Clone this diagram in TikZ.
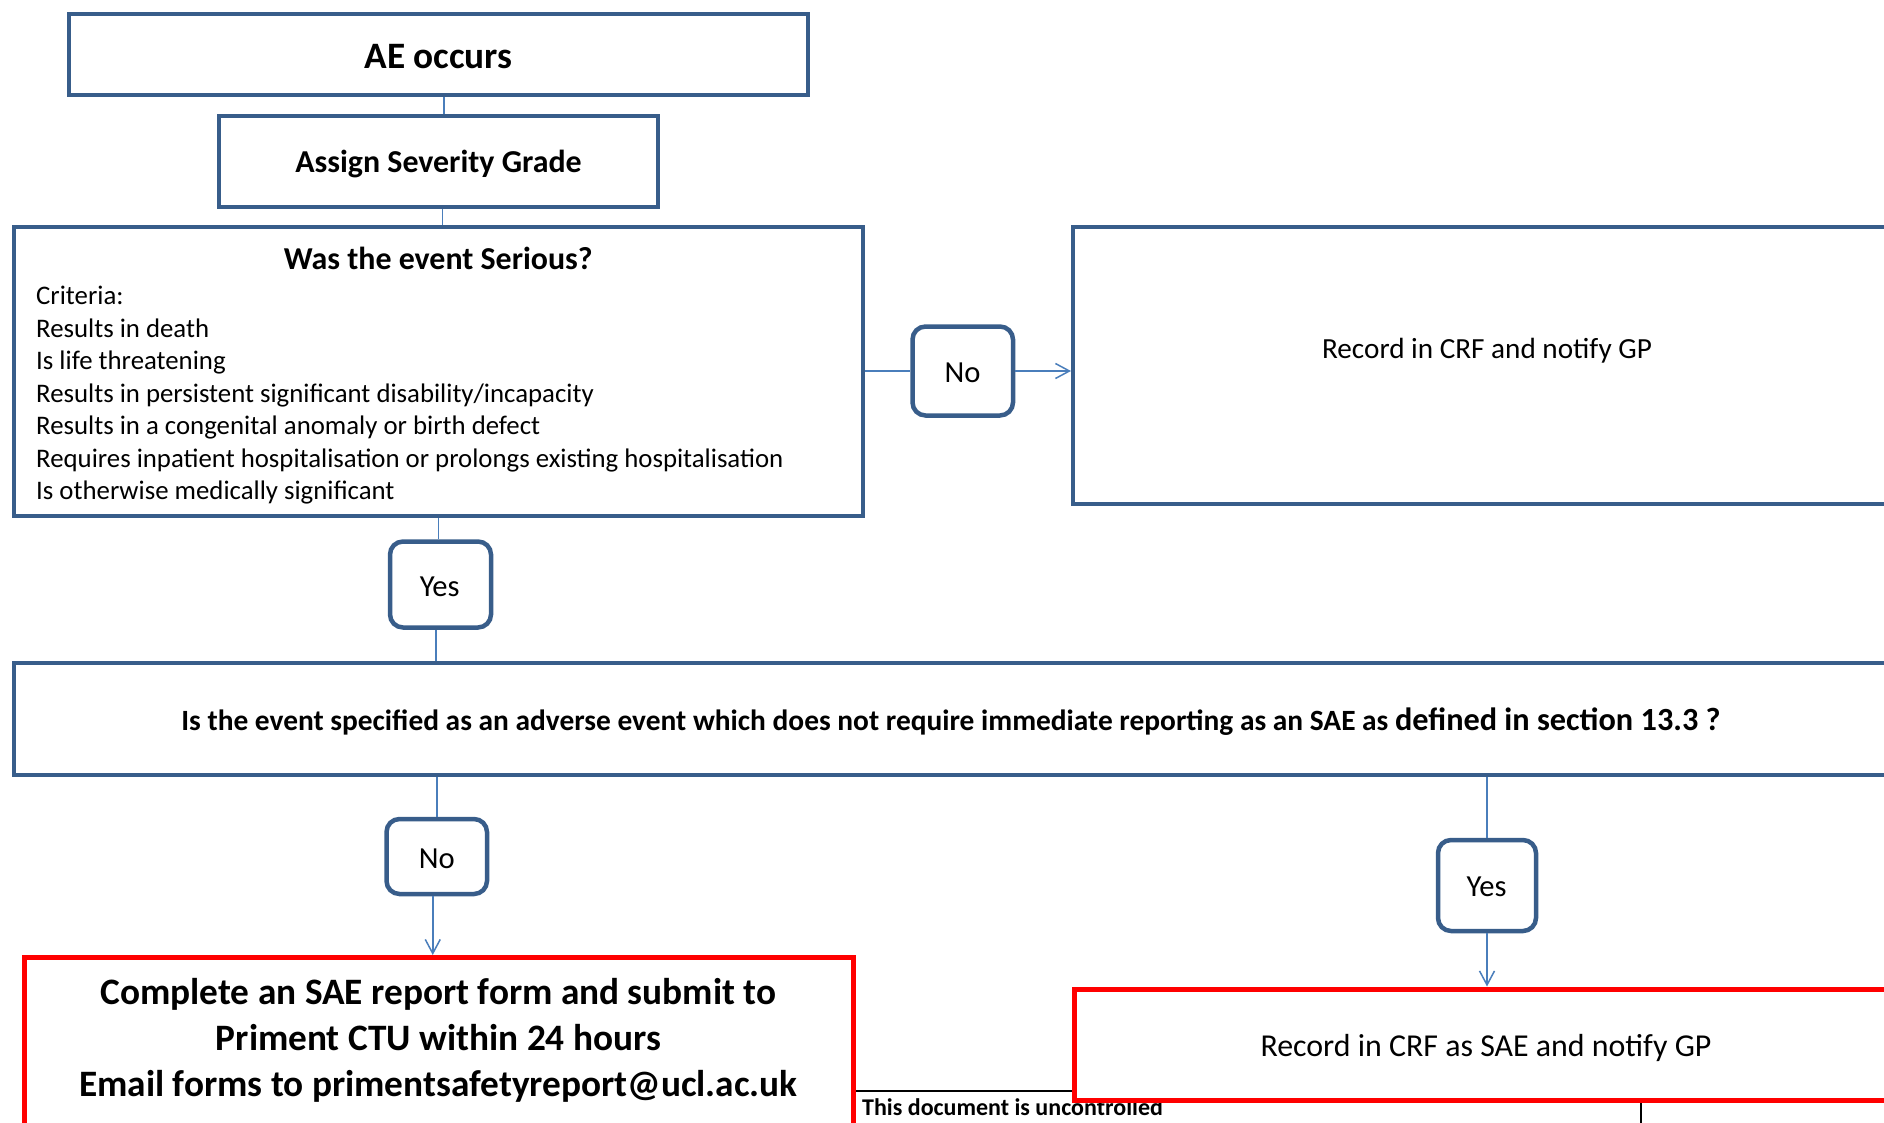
\documentclass[tikz,border=0pt]{standalone}
\usepackage{fontspec}
\setmainfont{Carlito}
\usetikzlibrary{arrows.meta}
\definecolor{boxblue}{HTML}{385D8A}
\definecolor{linkblue}{HTML}{4A7EBB}
\definecolor{alertred}{HTML}{FF0000}
\tikzset{
  bluebox/.style={draw=boxblue, line width=4pt, fill=white, rectangle, inner sep=0pt},
  redbox/.style={draw=alertred, line width=5pt, fill=white, rectangle, inner sep=0pt},
  choice/.style={draw=boxblue, line width=4.5pt, fill=white, rectangle, rounded corners=13pt, inner sep=0pt},
  choicetxt/.style={anchor=base, inner sep=0pt, font=\fontsize{30.6}{37}\selectfont},
  link/.style={draw=linkblue, line width=1.5pt},
  arrowlink/.style={link, -{Straight Barb[length=14pt, width=15pt, line width=1.5pt]}},
  lbl/.style={anchor=base, inner sep=0pt},
  crit/.style={anchor=base west, inner sep=0pt, font=\fontsize{26.8}{32}\selectfont},
  redtxt/.style={anchor=base, inner sep=0pt, font=\bfseries\fontsize{37.3}{45.5}\selectfont},
}
\begin{document}
\begin{tikzpicture}[x=1pt, y=-1pt]
\path[use as bounding box] (0,0) rectangle (1884,1123);
\clip (0,0) rectangle (1884,1123);

% footer rules and text (behind red boxes)
\coordinate (fl) at (853,1091);
\coordinate (fr) at (1720,1091);
\coordinate (vt) at (1641,1091);
\coordinate (vb) at (1641,1125);
\draw[black, line width=2pt] (fl) -- (fr);
\draw[black, line width=1.5pt] (vt) -- (vb);
\node[anchor=base west, inner sep=0pt, font=\bfseries\fontsize{24}{29}\selectfont] (note) at (862,1115) {This document is uncontrolled};

% boxes
\node[bluebox, minimum width=739pt, minimum height=81pt] (ae) at (438.5,54.5) {};
\node[bluebox, minimum width=439pt, minimum height=91pt] (assign) at (438.5,161.5) {};
\node[bluebox, minimum width=849.5pt, minimum height=289pt] (serious) at (438.25,371.5) {};
\node[bluebox, minimum width=829pt, minimum height=276.5pt] (record) at (1487.5,365.75) {};
\node[bluebox, minimum width=1876pt, minimum height=112pt] (big) at (952,719) {};
\node[redbox, minimum width=829pt, minimum height=187.5pt] (redleft) at (438.5,1051.25) {};
\node[redbox, minimum width=826pt, minimum height=111pt] (redright) at (1487,1044.5) {};

\node[choice, minimum width=100.5pt, minimum height=89pt] (no1) at (962.75,371) {};
\node[choice, minimum width=101pt, minimum height=86pt] (yes1) at (440.5,584.5) {};
\node[choice, minimum width=100.5pt, minimum height=75pt] (no2) at (436.75,856.5) {};
\node[choice, minimum width=98pt, minimum height=91pt] (yes2) at (1487,885.5) {};

% texts
\node[lbl, font=\bfseries\fontsize{37.3}{45}\selectfont] (aet) at (438.5,68.3) {AE occurs};
\node[lbl, font=\bfseries\fontsize{31.9}{38}\selectfont] (assignt) at (438.5,172.7) {Assign Severity Grade};
\node[lbl, font=\bfseries\fontsize{31.9}{38}\selectfont] (serioust) at (438.3,270) {Was the event Serious?};
\node[crit] (c0) at (36,304.5) {Criteria:};
\node[crit] (c1) at (36,337) {Results in death};
\node[crit] (c2) at (36,369.5) {Is life threatening};
\node[crit] (c3) at (36,402) {Results in persistent significant disability/incapacity};
\node[crit] (c4) at (36,434.5) {Results in a congenital anomaly or birth defect};
\node[crit] (c5) at (36,467) {Requires inpatient hospitalisation or prolongs existing hospitalisation};
\node[crit] (c6) at (36,499.5) {Is otherwise medically significant};
\node[lbl, font=\fontsize{29.2}{35}\selectfont] (recordt) at (1487,358) {Record in CRF and notify GP};
\node[lbl, font=\bfseries] (bigt) at (951,730) {{\fontsize{29.4}{35}\selectfont Is the event specified as an adverse event which does not require immediate reporting as an SAE as }{\fontsize{32.3}{39}\selectfont defined in section 13.3 ?}};
\node[redtxt] (r1) at (438.5,1004) {Complete an SAE report form and submit to};
\node[redtxt] (r2) at (438.5,1050) {Priment CTU within 24 hours};
\node[redtxt] (r3) at (438.5,1096) {Email forms to primentsafetyreport@ucl.ac.uk};
\node[lbl, font=\fontsize{31.9}{38}\selectfont] (redrightt) at (1486,1056.5) {Record in CRF as SAE and notify GP};
\node[choicetxt] (no1t) at (962.5,382.4) {No};
\node[choicetxt] (yes1t) at (439.7,596) {Yes};
\node[choicetxt] (no2t) at (436.75,868) {No};
\node[choicetxt] (yes2t) at (1486.5,896.6) {Yes};

% connectors
\draw[link] ([xshift=5.5pt]ae.south) -- ([xshift=5.5pt]assign.north);
\draw[link] ([xshift=4pt]assign.south) -- ([xshift=4pt]assign.south |- serious.north);
\draw[link] (serious.south) -- (serious.south |- yes1.north);
\draw[link] ([xshift=-4.5pt]yes1.south) -- ([xshift=-4.5pt]yes1.south |- big.north);
\draw[link] (serious.east |- no1.west) -- (no1.west);
\draw[arrowlink] (no1.east) -- (no1.east -| record.west);
\draw[link] (big.south -| no2.north) -- (no2.north);
\draw[arrowlink] ([xshift=-4pt]no2.south) -- ([xshift=-4pt]no2.south |- redleft.north);
\draw[link] (big.south -| yes2.north) -- (yes2.north);
\draw[arrowlink] (yes2.south) -- (yes2.south |- redright.north);
\end{tikzpicture}
\end{document}
